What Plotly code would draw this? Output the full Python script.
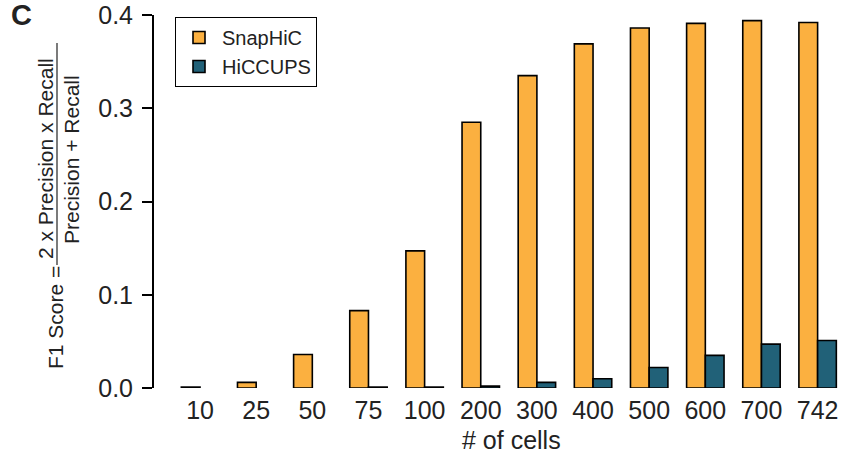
import plotly.graph_objects as go

# F1 score of loop calls vs. number of cells used
cells = ["10", "25", "50", "75", "100", "200", "300", "400", "500", "600", "700", "742"]
snaphic = [0.001, 0.006, 0.036, 0.083, 0.147, 0.285, 0.335, 0.369, 0.386, 0.391, 0.394, 0.392]
hiccups = [None, None, None, 0.001, 0.001, 0.002, 0.006, 0.010, 0.022, 0.035, 0.047, 0.051]

y_ticks = [0.0, 0.1, 0.2, 0.3, 0.4]

ORANGE = "#FBB040"
TEAL = "#216178"
INK = "#222222"
FONT = "Liberation Sans, Arial, sans-serif"

W, H = 844, 458
L, R, T, B = 154, 0, 15, 70
pw, ph = W - L - R, H - T - B


def px(x):
    return (x - L) / pw


def py(y):
    return (H - B - y) / ph


fig = go.Figure()
fig.add_bar(x=cells, y=snaphic, name="SnapHiC",
            marker=dict(color=ORANGE, line=dict(color="black", width=1.6)))
fig.add_bar(x=cells, y=hiccups, name="HiCCUPS",
            marker=dict(color=TEAL, line=dict(color="black", width=1.6)))

annotations = [
    dict(text="<b>C</b>", x=px(21), y=py(15), font=dict(size=29, color=INK)),
    dict(text="# of cells", x=px(511), y=py(440), font=dict(size=25, color=INK)),
    dict(text="F1 Score =", x=px(55), y=py(318), textangle=-90, font=dict(size=21, color=INK)),
    dict(text="2 x Precision x Recall", x=px(45), y=py(158), textangle=-90, font=dict(size=21, color=INK)),
    dict(text="Precision + Recall", x=px(71), y=py(160), textangle=-90, font=dict(size=21, color=INK)),
]
for a in annotations:
    a.update(xref="paper", yref="paper", showarrow=False, xanchor="center", yanchor="middle",
             font=dict(family=FONT, **a["font"]))

fig.update_layout(
    width=W, height=H,
    margin=dict(l=L, r=R, t=T, b=B, pad=0),
    paper_bgcolor="white", plot_bgcolor="white",
    font=dict(family=FONT, color=INK),
    barmode="group", bargap=1 / 3, bargroupgap=0,
    showlegend=True,
    legend=dict(x=px(175), y=py(17), xanchor="left", yanchor="top",
                bordercolor="black", borderwidth=1, bgcolor="white",
                font=dict(size=20, color=INK, family=FONT),
                itemwidth=36, traceorder="normal"),
    xaxis=dict(type="category", range=[-0.82, 11.47], showline=False, showgrid=False,
               zeroline=False, ticks="", tickfont=dict(size=25, color=INK),
               ticklabelstandoff=5),
    yaxis=dict(range=[0, 0.4], tickvals=y_ticks, ticktext=[f"{v:.1f}" for v in y_ticks],
               showline=True, linecolor="black", linewidth=2, ticks="outside",
               ticklen=10, tickwidth=2, tickcolor="black", showgrid=False, zeroline=False,
               tickfont=dict(size=25, color=INK), ticklabelstandoff=4),
    annotations=annotations,
    shapes=[dict(type="line", xref="paper", yref="paper", x0=px(57), x1=px(57),
                 y0=py(43), y1=py(265), line=dict(color=INK, width=1.2))],
)

fig.write_html("out.html")
